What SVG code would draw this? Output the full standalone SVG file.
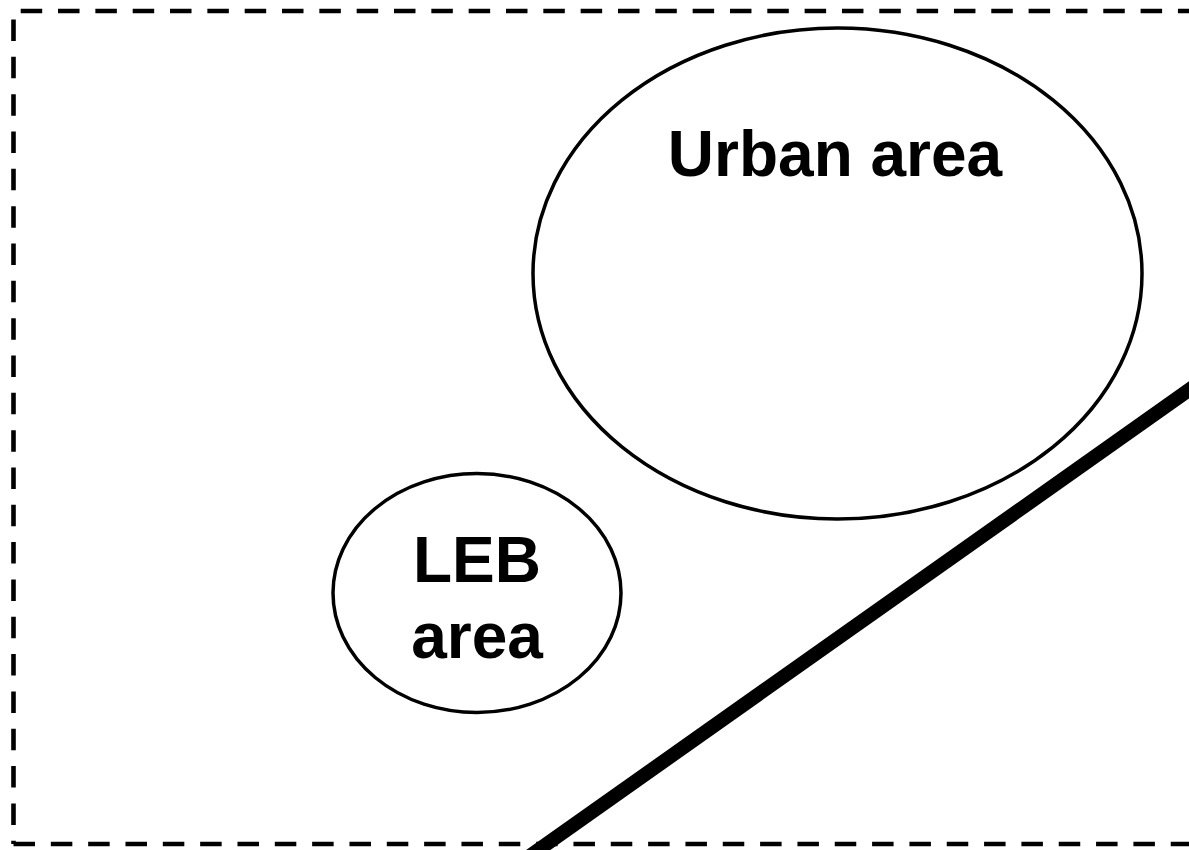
<svg xmlns="http://www.w3.org/2000/svg" width="1189" height="850" viewBox="0 0 1189 850">
  <style>
    .frame { stroke: #000; stroke-width: 4.6; stroke-dasharray: 21.5 15.83; fill: none; }
    .area { fill: #fff; stroke: #000; stroke-width: 3.5; }
    .label { font-family: "Liberation Sans", Arial, sans-serif; font-weight: bold; font-size: 64px; fill: #000; text-anchor: middle; }
    .road { stroke: #000; stroke-width: 14; fill: none; }
  </style>

  <rect width="1189" height="850" fill="#fff"/>

  <!-- dashed boundary -->
  <g id="boundary">
    <line class="frame" x1="20.7" y1="11" x2="1200" y2="11"/>
    <line class="frame" x1="13.5" y1="19.5" x2="13.5" y2="844"/>
    <line class="frame" x1="13.5" y1="844" x2="1200" y2="844"/>
  </g>

  <g id="urban-area">
    <ellipse class="area" cx="837.5" cy="273.5" rx="304.5" ry="245.5"/>
    <text class="label" x="835" y="176">Urban area</text>
  </g>

  <g id="leb-area">
    <ellipse class="area" cx="477" cy="593" rx="144" ry="119.5"/>
    <text class="label" x="477" y="582">LEB</text>
    <text class="label" x="477" y="658">area</text>
  </g>

  <g id="connectors">
    <line class="road" x1="517" y1="865" x2="1220" y2="368"/>
  </g>
</svg>
